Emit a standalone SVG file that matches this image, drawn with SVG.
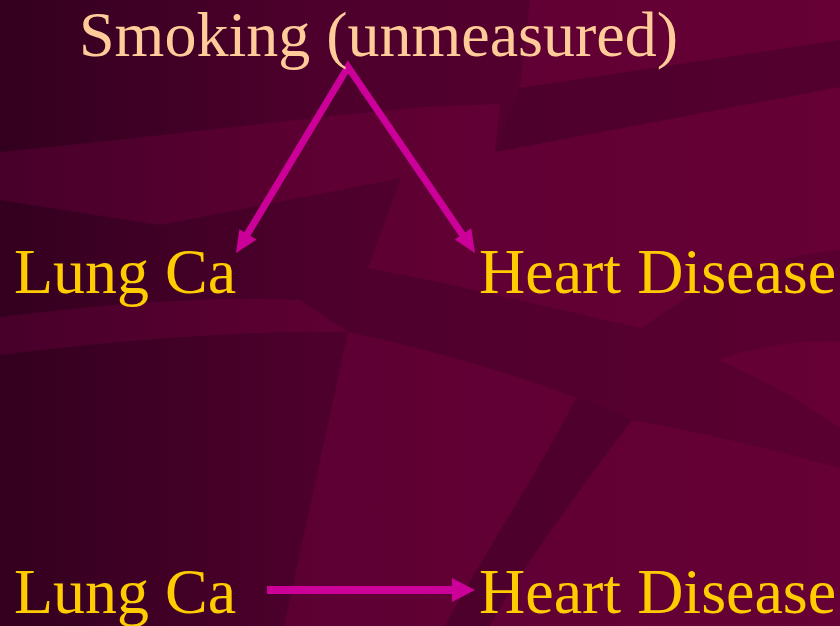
<svg xmlns="http://www.w3.org/2000/svg" width="840" height="626" viewBox="0 0 840 626">
  <defs>
    <linearGradient id="baseGrad" gradientUnits="userSpaceOnUse" x1="0" y1="0" x2="840" y2="0">
      <stop offset="0" stop-color="#33001f"/>
      <stop offset="0.4" stop-color="#4e002c"/>
      <stop offset="1" stop-color="#5a0030"/>
    </linearGradient>
    <linearGradient id="lightGrad" gradientUnits="userSpaceOnUse" x1="0" y1="0" x2="840" y2="0">
      <stop offset="0" stop-color="#470029"/>
      <stop offset="0.4" stop-color="#5e0033"/>
      <stop offset="1" stop-color="#660035"/>
    </linearGradient>
    <linearGradient id="darkGrad" gradientUnits="userSpaceOnUse" x1="0" y1="0" x2="840" y2="0">
      <stop offset="0" stop-color="#2e001c"/>
      <stop offset="0.4" stop-color="#4a002a"/>
      <stop offset="1" stop-color="#54002e"/>
    </linearGradient>
    <style>
      .light { fill: url(#lightGrad); }
      .dark { fill: url(#darkGrad); }
      .lbl { font-family: "Liberation Serif", "Times New Roman", serif; font-size: 64px; }
      .peach { fill: #ffcc99; }
      .gold { fill: #ffcc00; }
      .conn { stroke: #cc0099; fill: none; }
      .head { fill: #cc0099; }
    </style>
  </defs>

  <g id="background">
    <rect x="0" y="0" width="840" height="626" fill="url(#baseGrad)"/>
    <path class="light" d="M0,152 C150,138 300,118 427,107 L500,104 L495,152 L840,87 L840,250 C780,255 720,275 687,297 L641,328 C560,310 460,285 368,268 L401,178 L160,225 L0,200 Z"/>
    <path class="light" d="M530,0 L840,0 L840,40 L520,88 Z"/>
    <path class="dark" d="M520,88 L840,40 L840,87 L495,152 Z"/>
    <path class="light" d="M0,317 C100,305 200,296 300,300 L348,332 C250,330 120,340 0,355 Z"/>
    <path class="light" d="M348,332 C430,350 510,372 576,398 C540,470 480,560 445,626 L284,626 Z"/>
    <path class="dark" d="M576,398 C600,405 615,412 632,420 C580,490 520,570 490,626 L445,626 C480,560 540,470 576,398 Z"/>
    <path class="light" d="M632,420 C700,432 780,452 840,468 L840,626 L490,626 C520,570 580,490 632,420 Z"/>
    <path class="light" d="M719,360 C760,345 800,340 840,342 L840,428 C800,400 760,378 719,360 Z"/>
  </g>

  <g id="connectors">
    <path class="conn" stroke-width="7" stroke-linejoin="miter" d="M246.3,235.9 L348,67 L463.7,236.5"/>
    <polygon class="head" points="236,253 256.6,239.5 239.4,229.2"/>
    <polygon class="head" points="475,253 471.3,228.3 454.8,239.6"/>
    <line class="conn" stroke-width="8" x1="267" y1="590" x2="453" y2="590"/>
    <polygon class="head" points="475,590 452,578 452,602"/>
  </g>

  <g id="node-smoking">
    <text class="lbl peach" x="79" y="56">Smoking (unmeasured)</text>
  </g>
  <g id="node-lungca-top">
    <text class="lbl gold" x="14" y="293">Lung Ca</text>
  </g>
  <g id="node-heart-top">
    <text class="lbl gold" x="479" y="293">Heart Disease</text>
  </g>
  <g id="node-lungca-bottom">
    <text class="lbl gold" x="14" y="613">Lung Ca</text>
  </g>
  <g id="node-heart-bottom">
    <text class="lbl gold" x="479" y="613">Heart Disease</text>
  </g>
</svg>
